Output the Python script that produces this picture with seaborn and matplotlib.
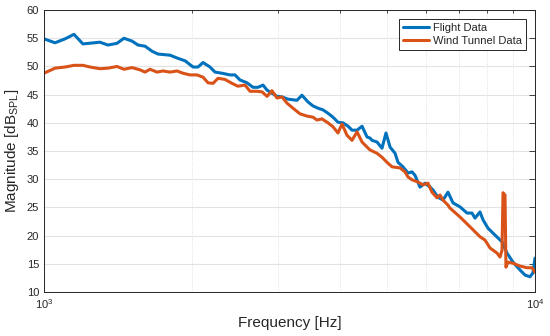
import pandas as pd
import matplotlib
matplotlib.use('Agg')
import matplotlib.pyplot as plt
import seaborn as sns
from matplotlib.ticker import LogLocator, NullFormatter, MultipleLocator

# values
flight_freq = [1000, 1053, 1104, 1151, 1200, 1300, 1350, 1408, 1455, 1511, 1554, 1606, 1660, 1707,
               1806, 1866, 1938, 2012, 2059, 2108, 2178, 2230, 2304, 2392, 2449, 2507, 2591, 2665,
               2729, 2793, 2846, 2983, 3053, 3140, 3275, 3353, 3449, 3531, 3614, 3700, 3788, 3878,
               3970, 4064, 4161, 4240, 4341, 4444, 4549, 4613, 4656, 4767, 4880, 4972, 5068, 5188,
               5260, 5384, 5513, 5617, 5696, 5831, 5970, 6112, 6198, 6345, 6496, 6650, 6808, 7036,
               7271, 7443, 7548, 7727, 7837, 8024, 8290, 8568, 8770, 9020, 9322, 9542, 9768, 9906,
               10000]
flight_db = [54.9, 54.2, 54.9, 55.7, 54.0, 54.3, 53.8, 54.1, 55.0, 54.5, 53.8, 53.6, 52.7, 52.2,
             52.0, 51.5, 51.0, 49.9, 49.9, 50.7, 49.9, 49.0, 48.8, 48.5, 48.5, 47.6, 47.1, 46.3,
             46.3, 46.7, 45.8, 44.7, 44.6, 44.2, 44.0, 44.9, 43.7, 43.0, 42.6, 42.3, 41.7, 41.0,
             40.1, 40.0, 39.4, 38.7, 38.7, 39.4, 37.5, 37.3, 36.9, 36.6, 35.5, 38.2, 35.7, 34.6,
             33.0, 32.2, 31.1, 31.3, 30.7, 28.6, 29.3, 28.6, 28.1, 26.8, 26.3, 27.7, 25.8, 25.1,
             24.0, 24.0, 23.1, 24.2, 22.8, 21.3, 20.1, 18.9, 16.9, 15.3, 13.9, 13.0, 12.7, 13.4,
             16.0]

tunnel_freq = [1000, 1053, 1104, 1151, 1200, 1241, 1300, 1350, 1408, 1455, 1511, 1569, 1606, 1644,
               1699, 1747, 1806, 1866, 1919, 1983, 2049, 2108, 2158, 2209, 2262, 2337, 2415, 2483,
               2567, 2628, 2710, 2780, 2846, 2913, 2983, 3053, 3125, 3214, 3322, 3433, 3531, 3597,
               3683, 3788, 3878, 3970, 4045, 4141, 4240, 4341, 4444, 4549, 4613, 4767, 4880, 4996,
               5115, 5310, 5435, 5513, 5617, 5777, 5914, 6055, 6169, 6316, 6405, 6496, 6650, 6708,
               7036, 7385, 7727, 7911, 8100, 8369, 8487, 8568, 8608, 8689, 8727, 8810, 9020, 9322,
               9632, 9860, 10000]
tunnel_db = [48.8, 49.7, 49.9, 50.2, 50.2, 49.9, 49.6, 49.7, 50.0, 49.5, 49.8, 49.4, 49.0, 49.5,
             49.0, 49.2, 49.0, 49.2, 48.8, 48.5, 48.5, 48.1, 47.1, 47.0, 47.9, 47.7, 47.0, 46.5,
             46.7, 45.6, 45.6, 45.5, 44.7, 45.7, 44.4, 44.6, 43.5, 42.6, 41.6, 41.2, 41.0, 40.5,
             40.7, 40.0, 39.3, 38.2, 39.8, 37.8, 36.9, 38.4, 36.6, 35.7, 35.2, 34.6, 33.9, 33.0,
             32.2, 32.0, 31.3, 30.4, 29.9, 29.5, 29.0, 29.3, 27.7, 26.7, 27.2, 26.3, 25.4, 24.9,
             23.3, 21.5, 19.8, 19.2, 17.8, 16.9, 16.2, 17.4, 27.6, 27.2, 14.4, 15.3, 15.1, 14.6,
             14.3, 14.3, 13.5]

series_names = ['Flight Data', 'Wind Tunnel Data']
colors = ['#0072BD', '#D95319']

df = pd.concat([
    pd.DataFrame({'Frequency': flight_freq, 'Magnitude': flight_db, 'Series': series_names[0]}),
    pd.DataFrame({'Frequency': tunnel_freq, 'Magnitude': tunnel_db, 'Series': series_names[1]}),
])

sns.set_style('white')
plt.rcParams['font.family'] = ['Liberation Sans', 'DejaVu Sans']
plt.rcParams['mathtext.fontset'] = 'custom'
plt.rcParams['mathtext.rm'] = 'Liberation Sans'
plt.rcParams['mathtext.it'] = 'Liberation Sans'

fig = plt.figure(figsize=(5.5, 3.36), dpi=100)
ax = fig.add_axes([0.08, 0.131, 0.8927, 0.839])

sns.lineplot(data=df, x='Frequency', y='Magnitude', hue='Series', palette=colors,
             estimator=None, sort=False, linewidth=2.2, ax=ax)

ax.set_xscale('log')
ax.set_xlim(1000, 10000)
ax.set_ylim(10, 60)
ax.yaxis.set_major_locator(MultipleLocator(5))
ax.xaxis.set_minor_locator(LogLocator(base=10, subs=range(2, 10)))
ax.xaxis.set_minor_formatter(NullFormatter())

ax.grid(True, which='major', axis='both', color='#e3e3e3', linewidth=0.8, linestyle='-')
ax.grid(True, which='minor', axis='x', color='#d8d8d8', linewidth=0.6, linestyle=':')
ax.set_axisbelow(True)

for s in ax.spines.values():
    s.set_color('#262626')
    s.set_linewidth(0.7)
ax.tick_params(which='both', direction='in', top=True, right=True, color='#262626',
               labelsize=8, labelcolor='#262626', width=0.6)
ax.tick_params(which='major', length=4)
ax.tick_params(which='minor', length=2.5)

ax.set_xlabel('Frequency [Hz]', fontsize=11, color='#262626')
ax.set_ylabel('Magnitude [dB$_{\\mathrm{SPL}}$]', fontsize=11, color='#262626')

leg = ax.legend(loc='upper right', fontsize=8, frameon=True, fancybox=False,
                edgecolor='#262626', framealpha=1, handlelength=2.3, borderaxespad=0.8,
                borderpad=0.35, labelspacing=0.3, handletextpad=0.4)
leg.get_frame().set_linewidth(0.7)

fig.savefig('out.png', dpi=100)
